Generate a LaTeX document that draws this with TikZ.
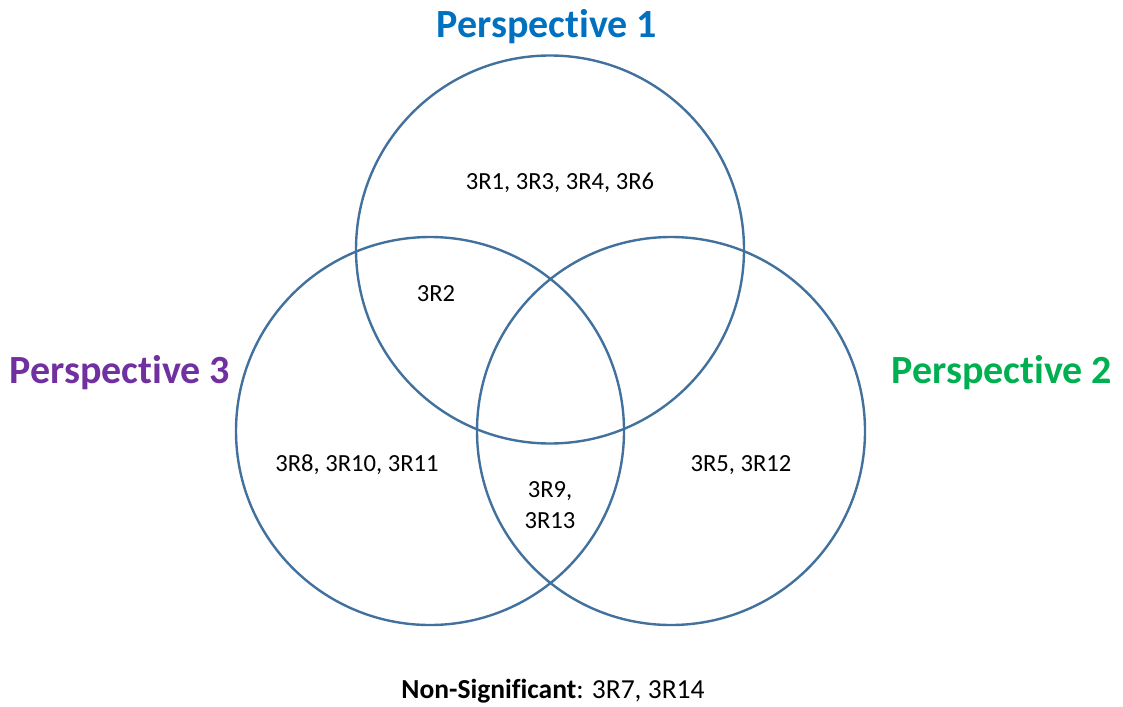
\documentclass[tikz,border=0pt]{standalone}
\usepackage{fontspec}
\setmainfont{Carlito}[Ligatures=NoCommon]
\definecolor{ringblue}{HTML}{41719C}
\definecolor{pblue}{HTML}{0070C0}
\definecolor{pgreen}{HTML}{00B050}
\definecolor{ppurple}{HTML}{7030A0}
\begin{document}
\begin{tikzpicture}[x=1pt,y=-1pt,
  ring/.style={draw=ringblue,line width=2.4pt},
  title/.style={font=\fontsize{40}{46}\selectfont\bfseries,anchor=center},
  item/.style={font=\fontsize{24.6}{31}\selectfont,anchor=center,align=center}]
\useasboundingbox (0,0) rectangle (1123,706);
% three overlapping sets
\draw[ring] (550,249.5) circle (194);
\draw[ring] (671,431) circle (194);
\draw[ring] (430,431) circle (194);
% set titles
\node[title,text=pblue] (p1) at (547,27) {Perspective 1};
\node[title,text=pgreen] (p2) at (1002,373) {Perspective 2};
\node[title,text=ppurple] (p3) at (120,373) {Perspective 3};
% region contents
\node[item] (r1) at (560,183) {3R1, 3R3, 3R4, 3R6};
\node[item] (r12) at (436,294) {3R2};
\node[item] (r3) at (357,465) {3R8, 3R10, 3R11};
\node[item] (r23) at (550,505) {3R9,\\3R13};
\node[item] (r2) at (741,465) {3R5, 3R12};
\node[item,font=\fontsize{27.5}{32}\selectfont] (ns) at (553,691) {\textbf{Non-Significant}: 3R7, 3R14};
\end{tikzpicture}
\end{document}
